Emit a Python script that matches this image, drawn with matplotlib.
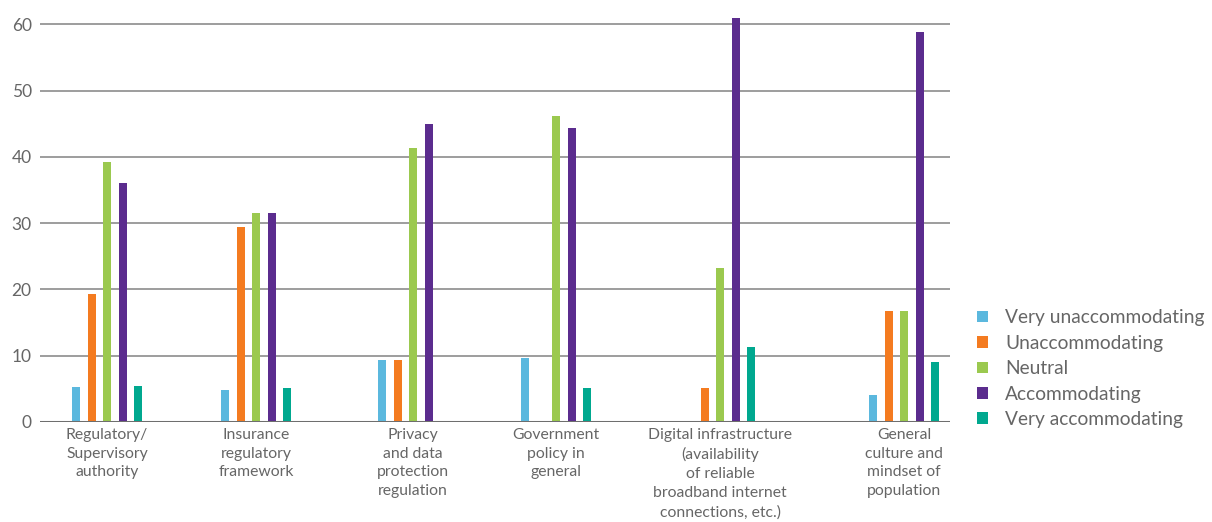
import numpy as np
import matplotlib
matplotlib.use("Agg")
import matplotlib.pyplot as plt
from matplotlib.patches import Patch

plt.rcParams['font.family'] = ['Lato', 'DejaVu Sans']

categories = ["Regulatory/\nSupervisory\nauthority",
              "Insurance\nregulatory\nframework",
              "Privacy\nand data\nprotection\nregulation",
              "Government\npolicy in\ngeneral",
              "Digital infrastructure\n(availability\nof reliable\nbroadband internet\nconnections, etc.)",
              "General\nculture and\nmindset of\npopulation"]
series = ["Very unaccommodating", "Unaccommodating", "Neutral",
          "Accommodating", "Very accommodating"]

very_unaccommodating = [5.3, 4.9, 9.4, 9.6, 0, 4.0]
unaccommodating = [19.3, 29.4, 9.4, 0, 5.2, 16.7]
neutral = [39.2, 31.5, 41.3, 46.2, 23.2, 16.7]
accommodating = [36.0, 31.5, 45.0, 44.3, 61.0, 58.9]
very_accommodating = [5.4, 5.2, 0, 5.2, 11.3, 9.1]

colors = ["#5bb8de", "#f47b20", "#9bc94f", "#5b2c8e", "#00a88f"]

# group centres along the axis (axis spans 0..910)
centers = np.array([67, 216, 373, 516, 680, 864])
step = 15.5
width = 8

fig = plt.figure(figsize=(12.12, 5.22), dpi=100)
ax = fig.add_axes([40 / 1212, 100 / 522, 910 / 1212, 411 / 522])

values = [very_unaccommodating, unaccommodating, neutral,
          accommodating, very_accommodating]
for i, (vals, c) in enumerate(zip(values, colors)):
    ax.bar(centers + (i - 2) * step, vals, width=width, color=c, zorder=3)

ax.set_xlim(0, 910)
ax.set_ylim(0, 62)
ax.set_yticks(range(0, 61, 10))
ax.grid(axis='y', color='#8c8c8c', linewidth=1.2, zorder=0)
ax.axhline(0, color='#6e6e6e', linewidth=2.2, zorder=4)
for s in ax.spines.values():
    s.set_visible(False)
ax.tick_params(axis='y', length=0, labelsize=12.5, labelcolor='#666666', pad=6)
ax.set_xticks(centers)
ax.set_xticklabels(categories, fontsize=11.3, color='#666666', linespacing=1.45)
ax.tick_params(axis='x', length=0, pad=4)

handles = [Patch(facecolor=c, label=s) for c, s in zip(colors, series)]
fig.legend(handles=handles, loc='upper left', bbox_to_anchor=(960 / 1212, 1 - 292 / 522),
           frameon=False, fontsize=13.8, labelcolor='#666666',
           handlelength=0.55, handleheight=0.55, handletextpad=0.9, labelspacing=0.44)

fig.savefig("out.png", dpi=100)
